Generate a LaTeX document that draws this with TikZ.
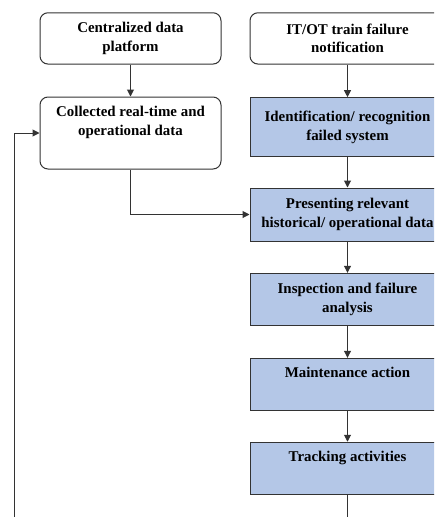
\documentclass[tikz,border=0pt]{standalone}
\usepackage{fontspec}
\setmainfont{Liberation Serif}
\usetikzlibrary{arrows.meta}
\definecolor{boxblue}{HTML}{B4C7E7}
\definecolor{linegray}{HTML}{333333}
\begin{document}
\begin{tikzpicture}[x=1pt,y=-1pt,
  every node/.style={font=\fontsize{14.9}{18.5}\selectfont\bfseries, align=center, inner sep=0pt},
  whitebox/.style={draw=linegray, line width=1pt, rounded corners=8pt, fill=white, minimum width=181pt},
  bluebox/.style={draw=linegray, line width=1pt, fill=boxblue, minimum width=195pt},
  conn/.style={draw=linegray, line width=1pt, -{Triangle[length=7pt,width=7pt]}},
  plainline/.style={draw=linegray, line width=1pt}
]
\useasboundingbox (0,0) rectangle (434,517);
\clip (0,0) rectangle (434,517);
\node[whitebox, minimum height=51.3pt] (c1) at (130.5,38.4) {Centralized data\\platform};
\node[whitebox, minimum width=195pt, minimum height=51.3pt] (c2) at (347.5,38.4) {IT/OT train failure\\notification};
\node[whitebox, minimum height=72pt] (c3) at (130.5,133) {Collected real-time and\\operational data\\\strut};
\node[bluebox, minimum height=59pt] (c4) at (347.5,127.2) {Identification/ recognition\\failed system};
\node[bluebox, minimum height=53pt] (c5) at (347.5,214.5) {Presenting relevant\\historical/ operational data};
\node[bluebox, minimum height=52.4pt] (c6) at (347.5,299.5) {Inspection and failure\\analysis};
\node[bluebox, minimum height=52pt] (c7) at (347.5,384.3) {Maintenance action\\\strut};
\node[bluebox, minimum height=52.7pt] (c8) at (347.5,468.6) {Tracking activities\\\strut};
\coordinate (bottomR) at (347.5,530);
\coordinate (bottomL) at (14,530);
\draw[conn] (c1) -- (c3);
\draw[conn] (c2) -- (c4);
\draw[conn] (c4) -- (c5);
\draw[conn] (c5) -- (c6);
\draw[conn] (c6) -- (c7);
\draw[conn] (c7) -- (c8);
\draw[plainline] (c8) -- (bottomR);
\draw[conn] (c3.south) |- (c5.west);
\draw[conn] (bottomL) |- (c3.west);
\end{tikzpicture}
\end{document}
